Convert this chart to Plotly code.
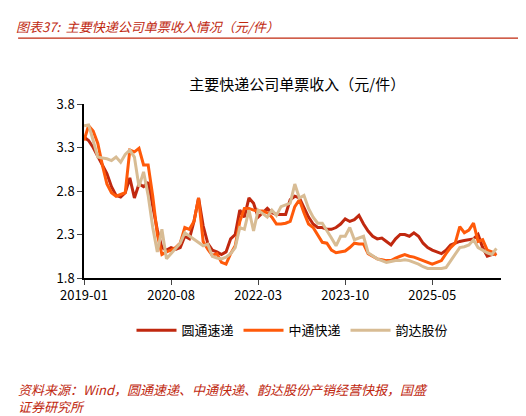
import plotly.graph_objects as go

tick_labels = ["2019-01", "2020-08", "2022-03", "2023-10", "2025-05"]
tick_pos = [0, 19, 38, 57, 76]

yto = [3.42,3.38,3.3,3.2,3.1,3.0,2.85,2.75,2.73,2.78,2.95,2.72,2.88,2.85,2.9,2.62,2.35,2.15,2.12,2.15,
       2.13,2.15,2.28,2.25,2.45,2.72,2.4,2.2,2.12,2.1,2.07,2.1,2.25,2.3,2.58,2.5,2.72,2.66,2.5,2.55,
       2.6,2.55,2.53,2.53,2.53,2.7,2.74,2.72,2.6,2.5,2.42,2.38,2.38,2.36,2.36,2.38,2.42,2.48,2.45,2.47,
       2.52,2.42,2.34,2.28,2.25,2.26,2.22,2.18,2.25,2.3,2.3,2.28,2.32,2.28,2.2,2.15,2.12,2.1,2.08,2.12,
       2.18,2.2,2.22,2.23,2.24,2.25,2.3,2.15,2.05,2.07,2.08]
zto = [3.38,3.55,3.49,3.35,3.1,2.88,2.78,2.74,2.76,2.78,3.27,3.25,3.29,3.1,3.1,2.74,2.3,2.07,2.1,2.12,
       2.15,2.2,2.38,2.36,2.45,2.72,2.22,2.13,2.06,2.08,1.98,1.96,2.08,2.17,2.45,2.6,2.6,2.58,2.57,2.57,
       2.55,2.5,2.42,2.42,2.43,2.45,2.62,2.7,2.55,2.42,2.38,2.3,2.21,2.2,2.12,2.09,2.1,2.11,2.15,2.2,
       2.19,2.19,2.08,2.05,2.02,2.01,2.0,2.0,2.03,2.05,2.07,2.05,2.04,2.02,2.0,1.98,1.96,1.98,2.0,2.08,
       2.15,2.2,2.39,2.32,2.35,2.43,2.22,2.24,2.12,2.1,2.06]
yunda = [3.55,3.56,3.38,3.19,3.18,3.17,3.15,3.19,3.13,3.22,3.27,3.19,2.85,3.02,2.75,2.38,2.1,2.36,2.02,2.08,
         2.15,2.2,2.32,2.28,2.24,2.2,2.17,2.19,2.05,2.03,2.02,2.04,2.08,2.15,2.38,2.36,2.58,2.34,2.58,2.54,
         2.5,2.58,2.52,2.62,2.64,2.66,2.88,2.72,2.75,2.6,2.5,2.43,2.43,2.35,2.26,2.17,2.28,2.28,2.38,2.24,
         2.26,2.28,2.09,2.05,2.02,2.0,1.98,1.99,2.0,2.0,2.01,2.0,1.98,1.96,1.93,1.91,1.91,1.91,1.91,1.92,
         2.0,2.08,2.15,2.16,2.18,2.24,2.15,2.12,2.09,2.07,2.14]

names = ["圆通速递", "中通快递", "韵达股份"]
colors = ["#C0280F", "#FF5A0A", "#D8BC94"]
series = [yto, zto, yunda]

fig = go.Figure()
for s, n, c in zip(series, names, colors):
    fig.add_trace(go.Scatter(x=list(range(len(s))), y=s, mode="lines", name=n,
                             line=dict(color=c, width=3)))

font = "Noto Sans CJK SC"
fig.update_layout(
    width=526, height=416, plot_bgcolor="white", paper_bgcolor="white",
    margin=dict(l=76, r=33, t=96, b=146),
    font=dict(family=font, size=13, color="black"),
    title=dict(text="主要快递公司单票收入（元/件）", x=0.55, xanchor="center", y=0.815, yanchor="middle",
               font=dict(size=15, color="black")),
    showlegend=True,
    legend=dict(orientation="h", x=0.5, xanchor="center", y=-0.3, yanchor="middle",
                font=dict(size=13), itemwidth=40),
    xaxis=dict(range=[0, 91], tickvals=tick_pos, ticktext=tick_labels, showgrid=False,
               showline=True, linecolor="black", linewidth=1.5, ticks="outside", ticklen=5,
               tickfont=dict(size=13)),
    yaxis=dict(range=[1.8, 3.8], tickvals=[1.8, 2.3, 2.8, 3.3, 3.8], ticktext=["1.8", "2.3", "2.8", "3.3", "3.8"],
               showgrid=False, showline=True, linecolor="black", linewidth=1.5, ticks="outside", ticklen=5,
               tickfont=dict(size=13)),
)
fig.add_annotation(text="<i>图表37:  主要快递公司单票收入情况（元/件）</i>", xref="paper", yref="paper",
                   x=0, y=1, xanchor="left", yanchor="bottom", xshift=-70, yshift=66, showarrow=False,
                   font=dict(size=13, color="#C0280F"))
fig.add_shape(type="line", xref="paper", yref="paper", x0=-0.158, x1=1.06, y0=1.379, y1=1.379,
              line=dict(color="#C0280F", width=1.2))
fig.add_annotation(text="<i>资料来源：Wind，圆通速递、中通快递、韵达股份产销经营快报，国盛<br>证券研究所</i>",
                   xref="paper", yref="paper", x=0, y=0, xanchor="left", yanchor="top", align="left",
                   xshift=-68, yshift=-100, showarrow=False, font=dict(size=13, color="#C0280F"))
fig.write_html("out.html")
